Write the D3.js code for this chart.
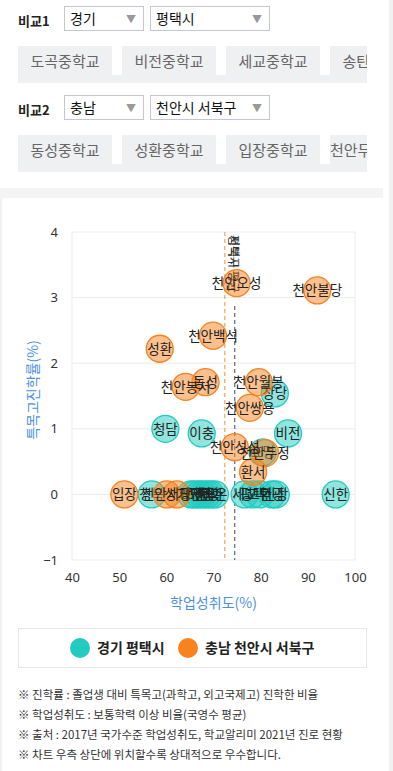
<!DOCTYPE html>
<html>
<head>
<meta charset="utf-8">
<script src="https://cdn.jsdelivr.net/npm/d3@7"></script>
<style>
  body { margin: 0; width: 393px; height: 771px; overflow: hidden; background: #fff;
         font-family: "Noto Sans CJK KR", "Noto Sans", sans-serif; position: relative; }
  .abs { position: absolute; }
  .lbl { font-size: 13px; font-weight: bold; color: #222; }
  .sel { border: 1px solid #c6c6d0; background: #fff; height: 25px; box-sizing: border-box;
         font-size: 14px; color: #111; padding-left: 5px; line-height: 23px; }
  .sel .arr { position: absolute; right: 7px; top: 0; color: #999; font-size: 10px; }
  .tags { left: 18px; width: 349px; height: 37px; overflow: hidden; }
  .track { position: absolute; left: 0; top: 29px; width: 349px; height: 8px; background: #eef0f2; }
  .tag { position: absolute; top: 0; height: 29px; width: 94px; background: #eef0f2;
         color: #666; font-size: 15px; line-height: 29px; text-align: center; white-space: nowrap; }
</style>
</head>
<body>
<div id="page"></div>
<script>
// 비교 선택 값
var compareRegions = ["경기", "충남"],
    compareCities = ["평택시", "천안시 서북구"],
    pyeongtaekTags = ["도곡중학교", "비전중학교", "세교중학교", "송탄중학교"],
    seobukTags = ["동성중학교", "성환중학교", "입장중학교", "천안두정중학교"];

var seriesNames = ["경기 평택시", "충남 천안시 서북구"],
    seriesColors = ["#21cbbf", "#f7821e"];

// 학교별 [이름, 학업성취도(%), 특목고진학률(%)]
var pyeongtaekSchools = [
    ["청북", 56.9, 0], ["가재", 65.2, 0], ["모산", 66.0, 0], ["서재", 66.9, 0],
    ["안중", 67.7, 0], ["중앙", 68.6, 0], ["현화", 69.4, 0], ["라온", 70.3, 0],
    ["세교", 76.6, 0], ["평택", 78.3, 0], ["고덕", 79.8, 0], ["한광", 82.4, 0],
    ["신장", 83.2, 0], ["신한", 95.9, 0],
    ["청담", 59.8, 1.0], ["이충", 67.5, 0.93], ["비전", 85.8, 0.93],
    ["효명", 80.4, 0.64], ["장당", 83.0, 1.54]
];
var seobukSchools = [
    ["입장", 51.1, 0], ["천안서당", 60.1, 0], ["성거", 62.2, 0],
    ["성환", 58.6, 2.22], ["천안봉서", 64.1, 1.64], ["동성", 68.3, 1.71],
    ["천안백석", 69.9, 2.42], ["천안오성", 74.9, 3.22], ["천안불당", 92.0, 3.11],
    ["천안월봉", 79.6, 1.71], ["천안쌍용", 77.7, 1.32], ["천안성성", 74.5, 0.72],
    ["천안두정", 80.9, 0.63], ["환서", 78.4, 0.34]
];

// 지역 평균 학업성취도
var averages = [74.5, 72.4],
    averageLabels = ["평택시 평균", "서북구 평균"];

var xTicks = [40, 50, 60, 70, 80, 90, 100],
    yTicks = [-1, 0, 1, 2, 3, 4];

var notes = [
    "※ 진학률 : 졸업생 대비 특목고(과학고, 외고국제고) 진학한 비율",
    "※ 학업성취도 : 보통학력 이상 비율(국영수 평균)",
    "※ 출처 : 2017년 국가수준 학업성취도, 학교알리미 2021년 진로 현황",
    "※ 차트 우측 상단에 위치할수록 상대적으로 우수합니다."
];

var page = d3.select("#page");

// 배경 구분선들
page.append("div").attr("class", "abs").style("left", "389px").style("top", "0px")
    .style("width", "4px").style("height", "771px").style("background", "#f1f1f1");
page.append("div").attr("class", "abs").style("left", "0px").style("top", "188px")
    .style("width", "383px").style("height", "10px").style("background", "#f4f4f4");
page.append("div").attr("class", "abs").style("left", "0px").style("top", "198px")
    .style("width", "2px").style("height", "573px").style("background", "#f1f1f1");

// 비교 선택 영역
function drawCompare(i, top, tags) {
    page.append("div").attr("class", "abs lbl").style("left", "18px").style("top", (top + 5) + "px")
        .text("비교" + (i + 1));
    let s1 = page.append("div").attr("class", "abs sel").style("left", "64px").style("top", top + "px")
        .style("width", "80px").text(compareRegions[i]);
    s1.append("span").attr("class", "arr").text("▼");
    let s2 = page.append("div").attr("class", "abs sel").style("left", "150px").style("top", top + "px")
        .style("width", "120px").text(compareCities[i]);
    s2.append("span").attr("class", "arr").text("▼");

    let box = page.append("div").attr("class", "abs tags").style("top", (top + 40) + "px");
    box.append("div").attr("class", "track");
    box.selectAll(".tag").data(tags).enter().append("div")
        .attr("class", "tag")
        .style("left", function(d, j) { return (j * 104) + "px"; })
        .text(function(d) { return d; });
}
drawCompare(0, 6, pyeongtaekTags);
drawCompare(1, 95, seobukTags);

// 차트
var svg = page.append("svg").attr("class", "abs")
    .style("left", "0px").style("top", "0px")
    .attr("width", 393).attr("height", 771);

var x = d3.scaleLinear().domain([40, 100]).range([72, 355]),
    y = d3.scaleLinear().domain([-1, 4]).range([560, 232]);

// 격자선
svg.append("g").selectAll("line").data(yTicks).enter().append("line")
    .attr("x1", x(40)).attr("x2", x(100))
    .attr("y1", function(d) { return y(d); }).attr("y2", function(d) { return y(d); })
    .attr("stroke", "#ebebeb").attr("stroke-width", 1);
svg.append("g").selectAll("line").data([40, 100]).enter().append("line")
    .attr("x1", function(d) { return x(d); }).attr("x2", function(d) { return x(d); })
    .attr("y1", y(4)).attr("y2", y(-1))
    .attr("stroke", "#ebebeb").attr("stroke-width", 1);

// 축 눈금
var yAxis = svg.append("g").attr("transform", "translate(" + (x(40) - 4) + ",0)")
    .call(d3.axisLeft(y).tickValues(yTicks).tickFormat(d3.format("d")).tickSize(0).tickPadding(10));
var xAxis = svg.append("g").attr("transform", "translate(0," + (y(-1) + 8) + ")")
    .call(d3.axisBottom(x).tickValues(xTicks).tickFormat(d3.format("d")).tickSize(0).tickPadding(5));
[xAxis, yAxis].forEach(function(a) {
    a.select(".domain").remove();
    a.selectAll("text").attr("fill", "#333").style("font-size", "13px")
        .style("font-family", "'Noto Sans', 'DejaVu Sans', sans-serif");
});

// 축 제목
svg.append("text").attr("x", (x(40) + x(100)) / 2).attr("y", 608)
    .attr("text-anchor", "middle").attr("fill", "#4a90e2").style("font-size", "14px")
    .text("학업성취도(%)");
svg.append("text")
    .attr("transform", "translate(38," + ((y(4) + y(-1)) / 2 - 6) + ") rotate(-90)")
    .attr("text-anchor", "middle").attr("fill", "#4a90e2").style("font-size", "14px")
    .text("특목고진학률(%)");

// 평균선
var avgColors = ["#4f6b84", "#f2a25a"];
averages.forEach(function(v, i) {
    svg.append("line")
        .attr("x1", x(v)).attr("x2", x(v))
        .attr("y1", i == 0 ? 306 : y(4)).attr("y2", y(-1))
        .attr("stroke", avgColors[i]).attr("stroke-width", 1.2)
        .attr("stroke-dasharray", "4,3");
    svg.append("text")
        .attr("transform", "translate(" + (i == 0 ? x(v) - 6 : x(v) + 4) + "," + (y(4) + 3) + ") rotate(90)")
        .attr("fill", "#333").style("font-size", "12px")
        .text(averageLabels[i]);
});

// 버블
function drawSeries(data, color) {
    let g = svg.append("g");
    g.selectAll("circle").data(data).enter().append("circle")
        .attr("cx", function(d) { return x(d[1]); })
        .attr("cy", function(d) { return y(d[2]); })
        .attr("r", 13.5)
        .attr("fill", color).attr("fill-opacity", 0.5)
        .attr("stroke", color).attr("stroke-width", 1.3);
    g.selectAll("text").data(data).enter().append("text")
        .attr("x", function(d) { return x(d[1]); })
        .attr("y", function(d) { return y(d[2]) + 5; })
        .attr("text-anchor", "middle").attr("fill", "#222")
        .style("font-size", "13.5px")
        .text(function(d) { return d[0]; });
}
drawSeries(pyeongtaekSchools, seriesColors[0]);
drawSeries(seobukSchools, seriesColors[1]);

// 범례
svg.append("rect").attr("x", 18.5).attr("y", 628.5).attr("width", 348).attr("height", 39)
    .attr("fill", "#fff").attr("stroke", "#e6e6e6");
var legendX = [80, 188];
seriesNames.forEach(function(name, i) {
    svg.append("circle").attr("cx", legendX[i]).attr("cy", 648).attr("r", 10)
        .attr("fill", seriesColors[i]);
    svg.append("text").attr("x", legendX[i] + 17).attr("y", 653)
        .attr("fill", "#222").style("font-size", "14px").style("font-weight", "bold")
        .text(name);
});

// 주석
svg.append("g").selectAll("text").data(notes).enter().append("text")
    .attr("x", 18).attr("y", function(d, i) { return 699 + i * 20; })
    .attr("fill", "#333").style("font-size", "11.5px")
    .text(function(d) { return d; });
</script>
</body>
</html>
